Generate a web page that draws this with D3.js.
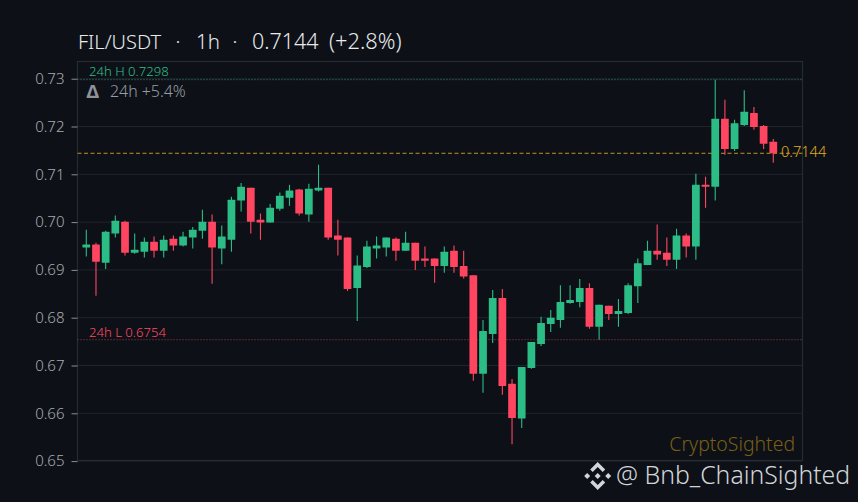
<!DOCTYPE html>
<html>
<head>
<meta charset="utf-8">
<script src="https://cdn.jsdelivr.net/npm/d3@7"></script>
<style>
html, body { margin: 0; padding: 0; background: #0d1117; }
svg { display: block; }
text { font-family: "Noto Sans", sans-serif; font-weight: 300; }
</style>
</head>
<body>
<div id="chart"></div>
<script>
// Candle values, one entry per hourly bar
const opens = [.6947,.6953,.6915,.6976,.7001,.6936,.6938,.6959,.6940,.6965,
	.6951,.6968,.6982,.7001,.6945,.6963,.7045,.7072,.7005,.6999,
	.7028,.7051,.7068,.7016,.7066,.7072,.6972,.6968,.6862,.6906,
	.6945,.6947,.6965,.6940,.6957,.6924,.6924,.6908,.6940,.6908,
	.6889,.6683,.6766,.6841,.6662,.6589,.6695,.6745,.6787,.6795,
	.6831,.6833,.6862,.6781,.6825,.6808,.6810,.6866,.6910,.6940,
	.6936,.6921,.6972,.6949,.7078,.7074,.7216,.7153,.7203,.7228,
	.7201,.7168];
const closes = [.6953,.6917,.6980,.7003,.6936,.6942,.6959,.6940,.6963,.6951,
	.6970,.6984,.7001,.6947,.6970,.7047,.7074,.7001,.6999,.7030,
	.7055,.7066,.7018,.7070,.7072,.6968,.6963,.6860,.6909,.6949,
	.6951,.6968,.6940,.6957,.6919,.6919,.6908,.6938,.6906,.6886,
	.6683,.6772,.6841,.6657,.6590,.6697,.6749,.6789,.6800,.6833,
	.6837,.6862,.6781,.6827,.6808,.6814,.6868,.6914,.6940,.6932,
	.6921,.6972,.6949,.7078,.7074,.7216,.7153,.7207,.7231,.7199,
	.7164,.7144];
const highs = [.6984,.6957,.6982,.7014,.7003,.6976,.6968,.6970,.6972,.6972,
	.6980,.6990,.7026,.7016,.6993,.7053,.7082,.7072,.7018,.7038,
	.7062,.7078,.7070,.7080,.7120,.7072,.7005,.6968,.6930,.6961,
	.6970,.6968,.6968,.6980,.6957,.6949,.6924,.6949,.6951,.6940,
	.6889,.6795,.6858,.6860,.6672,.6697,.6749,.6802,.6816,.6868,
	.6868,.6881,.6872,.6827,.6825,.6839,.6872,.6924,.6961,.6995,
	.6968,.6986,.6976,.7101,.7095,.7298,.7256,.7214,.7276,.7241,
	.7203,.7174];
const lows = [.6928,.6846,.6902,.6968,.6930,.6934,.6926,.6926,.6926,.6940,
	.6949,.6945,.6965,.6871,.6912,.6938,.7022,.6976,.6963,.6999,
	.7024,.7034,.7014,.7001,.7064,.6963,.6930,.6856,.6793,.6904,
	.6924,.6928,.6919,.6940,.6900,.6906,.6873,.6894,.6894,.6882,
	.6668,.6643,.6747,.6639,.6535,.6569,.6693,.6741,.6770,.6779,
	.6829,.6822,.6777,.6754,.6795,.6781,.6808,.6831,.6910,.6921,
	.6908,.6902,.6926,.6921,.7030,.7045,.7141,.7149,.7201,.7193,
	.7153,.7124];

const yTicks = [0.65, 0.66, 0.67, 0.68, 0.69, 0.70, 0.71, 0.72, 0.73];
const high24 = 0.7298;
const low24 = 0.6754;
const lastPrice = 0.7144;

const width = 858, height = 502;
const margin = { top: 61.5, right: 55.5, bottom: 41.5, left: 77.5 };

const up = '#2bbd85', down = '#ff4560';

const svg = d3.select('#chart').append('svg')
	.attr('width', width)
	.attr('height', height);

svg.append('rect').attr('width', width).attr('height', height).attr('fill', '#0d1117');

// Scales
const x = d3.scaleLinear()
	.domain([-0.91, opens.length + 2.02])
	.range([margin.left, width - margin.right]);
const y = d3.scaleLinear()
	.domain([0.65, 0.7336])
	.range([461.1, 61.5]);

const bodyW = x(0.8) - x(0);

// Grid
svg.append('g').selectAll('line.grid')
	.data(yTicks)
	.enter()
	.append('line')
	.attr('class', 'grid')
	.attr('x1', margin.left)
	.attr('x2', width - margin.right)
	.attr('y1', d => y(d))
	.attr('y2', d => y(d))
	.attr('stroke', '#20242b')
	.attr('stroke-width', 1);

// Frame
svg.append('rect')
	.attr('x', margin.left)
	.attr('y', margin.top)
	.attr('width', width - margin.left - margin.right)
	.attr('height', height - margin.top - margin.bottom)
	.attr('fill', 'none')
	.attr('stroke', '#262a32')
	.attr('stroke-width', 1.2);

// Y axis
const yAxis = svg.append('g')
	.attr('transform', `translate(${margin.left},0)`)
	.call(d3.axisLeft(y).tickValues(yTicks).tickFormat(d3.format('.2f')).tickSize(6).tickPadding(7));
yAxis.select('.domain').remove();
yAxis.selectAll('line').attr('stroke', '#8a8e96').attr('stroke-width', 1);
yAxis.selectAll('text').attr('fill', '#a8acb2').style('font-size', '15px').style('font-family', '"Noto Sans", sans-serif');

// Reference lines
const refLine = (value, color, dash) => {
	svg.append('line')
		.attr('x1', margin.left)
		.attr('x2', width - margin.right)
		.attr('y1', y(value))
		.attr('y2', y(value))
		.attr('stroke', color)
		.attr('stroke-width', 1)
		.attr('stroke-dasharray', dash);
};
refLine(high24, '#2a8a68', '1 2');
refLine(low24, '#a03a4a', '1 2');
refLine(lastPrice, '#bd9320', '4 2.5');

// Candles
const candles = svg.append('g').selectAll('g.candle')
	.data(opens.map((o, i) => ({ i, o, c: closes[i], h: highs[i], l: lows[i] })))
	.enter()
	.append('g')
	.attr('class', 'candle');

candles.append('line')
	.attr('x1', d => x(d.i))
	.attr('x2', d => x(d.i))
	.attr('y1', d => y(d.h))
	.attr('y2', d => y(d.l))
	.attr('stroke', d => d.c >= d.o ? up : down)
	.attr('stroke-width', 1.1);

candles.append('rect')
	.attr('x', d => x(d.i) - bodyW / 2)
	.attr('y', d => y(Math.max(d.o, d.c)))
	.attr('width', bodyW)
	.attr('height', d => Math.abs(y(d.o) - y(d.c)))
	.attr('rx', 0.5)
	.attr('fill', d => d.c >= d.o ? up : down);

// Texts
const label = (txt, px, py, size, color, anchor) => svg.append('text')
	.attr('x', px)
	.attr('y', py)
	.attr('font-size', size)
	.attr('fill', color)
	.attr('text-anchor', anchor || 'start')
	.text(txt);

// Title is placed piece by piece to hold its wide gaps
label('FIL/USDT', 78, 49, 20, '#e8eaec');
label('·', 175.5, 49, 20, '#e8eaec');
label('1h', 196, 49, 20.5, '#e8eaec');
label('·', 232.5, 49, 20, '#e8eaec');
label('0.7144', 252, 49, 21.5, '#e8eaec');
label('(+2.8%)', 329, 49, 21.8, '#e8eaec');

label('24h H 0.7298', 89, 76, 13.1, '#30bf8c');
label('24h L 0.6754', 89, 337, 13.1, '#ff4a64');
label('Δ', 86.5, 97.5, 18.5, '#8e9299').style('font-weight', 700);
label('24h +5.4%', 110, 97, 15.9, '#989ca3');
label('0.7144', 781, 157, 14.6, '#e0ac22');
label('CryptoSighted', 795, 450.5, 19.4, '#7a5f16', 'end');
label('@ Bnb_ChainSighted', 616, 484, 24.8, '#d2d5d9');

// Exchange logo: centre diamond, two side diamonds, two chevrons
const logo = svg.append('g')
	.attr('transform', 'translate(597.7,476)')
	.attr('fill', '#d2d5d9');
const diamond = (cx, cy, r) => {
	logo.append('path').attr('d', `M${cx - r},${cy}L${cx},${cy - r}L${cx + r},${cy}L${cx},${cy + r}Z`);
};
diamond(0, 0, 3);
diamond(-10.5, 0, 3);
diamond(10.5, 0, 3);
logo.append('path').attr('d', 'M0,-14L7.5,-6.5L5,-4L0,-9L-5,-4L-7.5,-6.5Z');
logo.append('path').attr('d', 'M0,14L7.5,6.5L5,4L0,9L-5,4L-7.5,6.5Z');
</script>
</body>
</html>
